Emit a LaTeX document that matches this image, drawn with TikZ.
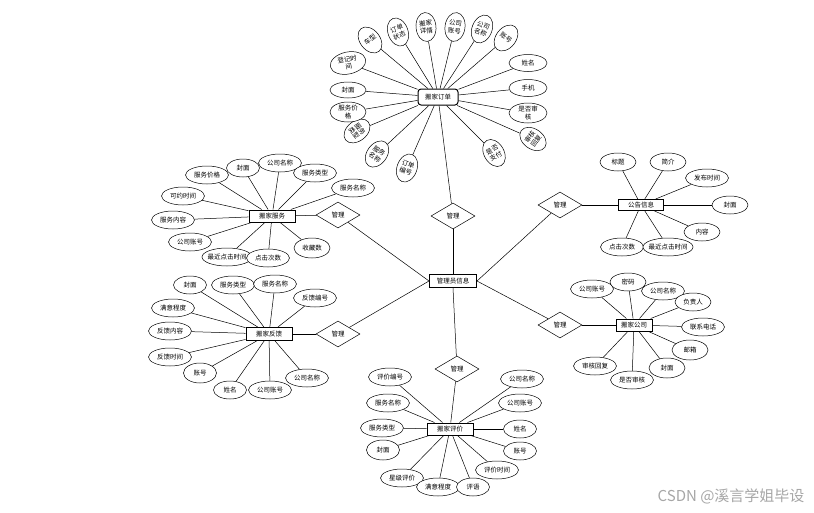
\documentclass[tikz,border=0pt]{standalone}
\usepackage{fontspec}
\setmainfont{Noto Sans CJK SC}
\usetikzlibrary{shapes.geometric,backgrounds}

\tikzset{
  every node/.style={font=\fontsize{6.5}{7.5}\selectfont},
  entity/.style={draw, line width=1pt, fill=white, minimum width=46pt, minimum height=13pt, inner sep=1pt},
  attr/.style={draw, ellipse, fill=white, line width=0.5pt, minimum width=43pt, minimum height=18pt, inner sep=0pt, align=center},
  attrshort/.style={attr, minimum width=33pt},
  attrlong/.style={attr, minimum width=50pt, inner xsep=-3pt},
  tilt/.style={attr, minimum width=20pt, minimum height=29pt, rotate=#1},
  relation/.style={draw, diamond, fill=white, line width=0.5pt, minimum width=44pt, minimum height=26pt, inner sep=0pt},
  link/.style={line width=0.5pt},
}

\begin{document}
\begin{tikzpicture}[x=1pt,y=-1pt]
\useasboundingbox (0,0) rectangle (814,512);

\node[entity, rounded corners=3pt, minimum width=40pt, minimum height=16pt] (order) at (438,97) {搬家订单};
\node[attr, minimum width=36pt, minimum height=22pt, rotate=12] (oreg) at (348,63) {登记时\\间};
\node[tilt=38] (otype) at (370,40) {车型};
\node[tilt=20] (ostate) at (398,32) {订单\\状态};
\node[tilt=5] (odetail) at (426,27) {搬家\\详情};
\node[tilt=-8] (ocacc) at (455,27) {公司\\账号};
\node[tilt=-22] (ocname) at (482,29) {公司\\名称};
\node[tilt=-38] (oacc) at (506,38) {账号};
\node[attr, minimum width=38pt, minimum height=17pt] (oname) at (528,63) {姓名};
\node[attr, minimum width=38pt, minimum height=17pt] (ophone) at (528,88) {手机};
\node[attr, minimum width=38pt, minimum height=20pt] (oaudit) at (528,113) {是否审\\核};
\node[tilt=55] (oreply) at (533,139) {审核\\回复};
\node[tilt=30] (opay) at (494,153) {是否\\支付};
\node[tilt=-20] (ono) at (407,168) {订单\\编号};
\node[tilt=-36] (osname) at (377,154) {服务\\名称};
\node[tilt=-52] (ostype) at (357,131) {服务\\类型};
\node[attr, minimum width=36pt, minimum height=20pt] (oprice) at (348,112) {服务价\\格};
\node[attr, minimum width=36pt, minimum height=16pt] (ocover) at (348,90) {封面};

\node[relation] (rorder) at (453,216) {管理};
\node[entity, minimum width=47pt] (admin) at (453,281) {管理员信息};
\node[relation] (rreview) at (457,369) {管理};
\node[relation] (rservice) at (338,215) {管理};
\node[relation] (rfeedback) at (338,334) {管理};
\node[relation] (rnotice) at (560,205) {管理};
\node[relation] (rcompany) at (560,325) {管理};

\node[entity, minimum height=12pt] (service) at (272,216) {搬家服务};
\node[attr] (sprice) at (207,175) {服务价格};
\node[attrshort] (scover) at (243,168) {封面};
\node[attr] (scname) at (280,163) {公司名称};
\node[attr] (sstype) at (315,173) {服务类型};
\node[attr] (ssname) at (353,188) {服务名称};
\node[attr] (stime) at (183,196) {可约时间};
\node[attr] (scontent) at (173,220) {服务内容};
\node[attr] (scacc) at (190,242) {公司账号};
\node[attrlong] (slast) at (227,257) {最近点击时间};
\node[attr] (sclick) at (268,258) {点击次数};
\node[attr, minimum width=36pt, minimum height=20pt] (sfav) at (312,248) {收藏数};

\node[entity] (feedback) at (269,334) {搬家反馈};
\node[attrshort] (fcover) at (190,285) {封面};
\node[attr] (fstype) at (233,285) {服务类型};
\node[attr] (fsname) at (275,284) {服务名称};
\node[attr] (fno) at (315,298) {反馈编号};
\node[attr] (fsat) at (173,308) {满意程度};
\node[attr] (fcontent) at (170,331) {反馈内容};
\node[attr] (ftime) at (170,357) {反馈时间};
\node[attrshort, minimum height=20pt] (facc) at (200,373) {账号};
\node[attrshort] (fname) at (230,390) {姓名};
\node[attr] (fcacc) at (270,390) {公司账号};
\node[attr] (fcname) at (307,378) {公司名称};

\node[entity, minimum height=12pt] (review) at (450,429) {搬家评价};
\node[attr] (vno) at (390,377) {评价编号};
\node[attr] (vsname) at (388,403) {服务名称};
\node[attr] (vstype) at (382,428) {服务类型};
\node[attrshort, minimum height=20pt] (vcover) at (383,450) {封面};
\node[attr] (vstar) at (402,478) {星级评价};
\node[attr] (vsat) at (438,487) {满意程度};
\node[attrshort] (vcomment) at (473,487) {评语};
\node[attr] (vtime) at (497,470) {评价时间};
\node[attrshort] (vacc) at (520,451) {账号};
\node[attrshort] (vname) at (520,429) {姓名};
\node[attr] (vcacc) at (520,403) {公司账号};
\node[attr] (vcname) at (522,379) {公司名称};

\node[entity, minimum width=45pt, minimum height=11pt] (notice) at (641,205) {公告信息};
\node[attrshort, minimum width=36pt] (ntitle) at (618,162) {标题};
\node[attrshort, minimum width=36pt] (nintro) at (668,162) {简介};
\node[attr] (ntime) at (707,178) {发布时间};
\node[attrshort, minimum width=36pt] (ncover) at (730,205) {封面};
\node[attrshort, minimum width=36pt] (ncontent) at (702,232) {内容};
\node[attr] (nclick) at (622,247) {点击次数};
\node[attrlong] (nlast) at (668,247) {最近点击时间};

\node[entity, minimum width=36pt, minimum height=12pt] (company) at (634,325) {搬家公司};
\node[attr] (cacc) at (592,289) {公司账号};
\node[attrshort, minimum width=36pt] (cpwd) at (628,282) {密码};
\node[attr] (ccname) at (663,291) {公司名称};
\node[attrshort, minimum width=36pt] (cboss) at (693,302) {负责人};
\node[attr] (cphone) at (703,327) {联系电话};
\node[attrshort, minimum width=36pt, minimum height=20pt] (cmail) at (690,350) {邮箱};
\node[attrshort, minimum width=36pt, minimum height=20pt] (ccover) at (667,368) {封面};
\node[attr] (creply) at (595,366) {审核回复};
\node[attr] (caudit) at (632,380) {是否审核};

\node[anchor=east, text=black!35, font=\fontsize{15}{17}\selectfont] (mark) at (808,496) {CSDN @溪言学姐毕设};

\begin{pgfonlayer}{background}
\foreach \a in {oreg,otype,ostate,odetail,ocacc,ocname,oacc,oname,ophone,oaudit,oreply,opay,ono,osname,ostype,oprice,ocover,rorder}
  \draw[link] (order) -- (\a);
\foreach \a in {sprice,scover,scname,sstype,ssname,stime,scontent,scacc,slast,sclick,sfav,rservice}
  \draw[link] (service) -- (\a);
\foreach \a in {fcover,fstype,fsname,fno,fsat,fcontent,ftime,facc,fname,fcacc,fcname,rfeedback}
  \draw[link] (feedback) -- (\a);
\foreach \a in {vno,vsname,vstype,vcover,vstar,vsat,vcomment,vtime,vacc,vname,vcacc,vcname,rreview}
  \draw[link] (review) -- (\a);
\foreach \a in {ntitle,nintro,ntime,ncover,ncontent,nclick,nlast,rnotice}
  \draw[link] (notice) -- (\a);
\foreach \a in {cacc,cpwd,ccname,cboss,cphone,cmail,ccover,creply,caudit,rcompany}
  \draw[link] (company) -- (\a);
\draw[link] (rorder) -- (admin.north);
\draw[link] (rservice) -- (admin.west);
\draw[link] (rfeedback) -- (admin.west);
\draw[link] (admin.south) -- (rreview);
\draw[link] (admin.east) -- (rnotice);
\draw[link] (admin.east) -- (rcompany);
\end{pgfonlayer}

\end{tikzpicture}
\end{document}
